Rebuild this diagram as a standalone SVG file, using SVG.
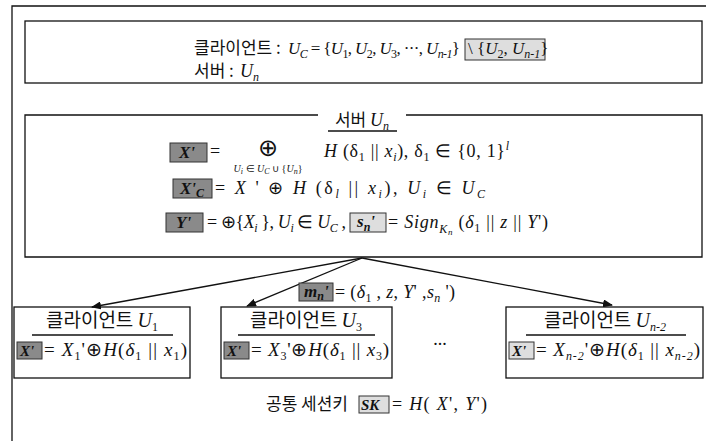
<svg xmlns="http://www.w3.org/2000/svg" width="706" height="441" viewBox="0 0 706 441">
<style>
.ln{fill:none;stroke:#111;stroke-width:1.3}
.k{font-family:"Noto Sans CJK KR","Noto Sans",sans-serif;font-size:17px;font-style:normal;fill:#111}
.m{font-family:"Liberation Serif",serif;font-style:italic;font-size:18px;fill:#111}
.u{font-style:normal}
.s{font-size:12px}
.dk{fill:#8a8a8a;stroke:#333;stroke-width:1}
.lt{fill:#dedede;stroke:#333;stroke-width:1}
.bx{font-family:"Liberation Serif",serif;font-style:italic;font-weight:bold;font-size:17px;fill:#111}
.sm{font-size:15px}
.cf{font-size:19px}
.op{font-family:"DejaVu Sans",sans-serif;font-style:normal;fill:#111}
</style>
<defs>
<marker id="ah" markerWidth="10" markerHeight="8" refX="9" refY="4" orient="auto" markerUnits="userSpaceOnUse">
<path d="M0,0 L10,4 L0,8 Z" fill="#111"/>
</marker>
</defs>
<rect width="706" height="441" fill="#fff"/>
<path class="ln" d="M12,441 V6 H706"/>

<g id="participants">
<rect class="ln" x="25" y="21" width="677" height="62"/>
<text class="k" x="194" y="54">클라이언트 :</text>
<text class="m" x="288" y="54" style="font-size:17px" textLength="172" lengthAdjust="spacing">U<tspan class="s" dy="4">C</tspan><tspan class="u" dy="-4"> = {</tspan>U<tspan class="s u" dy="4">1</tspan><tspan class="u" dy="-4">, </tspan>U<tspan class="s u" dy="4">2</tspan><tspan class="u" dy="-4">, </tspan>U<tspan class="s u" dy="4">3</tspan><tspan class="u" dy="-4">, ···, </tspan>U<tspan class="s" dy="4">n-1</tspan><tspan class="u" dy="-4">}</tspan></text>
<rect class="lt" x="465" y="39" width="80" height="21"/>
<text class="m" x="468" y="54" style="font-size:17px"><tspan class="u">\ {</tspan>U<tspan class="s u" dy="4">2</tspan><tspan class="u" dy="-4">, </tspan>U<tspan class="s" dy="4">n-1</tspan><tspan class="u" dy="-4">}</tspan></text>
<text class="k" x="194" y="77">서버 :</text>
<text class="m" x="240" y="77">U<tspan class="s" dy="4">n</tspan></text>
</g>

<g id="server">
<path class="ln" d="M318,115 H25 V257 H702 V115 H406"/>
<text class="m" x="362" y="126" text-anchor="middle"><tspan class="k">서버 </tspan>U<tspan class="s" dy="4">n</tspan></text>
<line class="ln" x1="328" y1="131" x2="397" y2="131"/>

<rect class="dk" x="170" y="143" width="37" height="19"/>
<text class="bx" x="179" y="158">X'</text>
<text class="m u" x="210" y="157">=</text>
<text class="op" x="268" y="156" text-anchor="middle" style="font-size:24px">⊕</text>
<text class="m" x="268" y="172" text-anchor="middle" style="font-size:10px">U<tspan dy="2" style="font-size:8px">i</tspan><tspan class="u" dy="-2"> ∈ </tspan>U<tspan dy="2" style="font-size:8px">C</tspan><tspan class="u" dy="-2"> ∪ {</tspan>U<tspan dy="2" style="font-size:8px">n</tspan><tspan class="u" dy="-2">}</tspan></text>
<text class="m" x="324" y="157" textLength="185" lengthAdjust="spacing">H <tspan class="u">(δ</tspan><tspan class="s u" dy="4">1</tspan><tspan class="u" dy="-4"> || </tspan>x<tspan class="s" dy="4">i</tspan><tspan class="u" dy="-4">), δ</tspan><tspan class="s u" dy="4">1</tspan><tspan class="u" dy="-4"> ∈ {0, 1}</tspan><tspan class="s" dy="-7">l</tspan></text>

<rect class="dk" x="173" y="179" width="39" height="19"/>
<text class="bx" x="180" y="194">X'<tspan class="s" dy="3">C</tspan></text>
<text class="m" x="215" y="194" textLength="270" lengthAdjust="spacing"><tspan class="u">= </tspan>X<tspan class="u"> ' ⊕ </tspan>H <tspan class="u">(δ</tspan><tspan class="s" dy="4">l</tspan><tspan class="u" dy="-4"> || </tspan>x<tspan class="s" dy="4">i</tspan><tspan class="u" dy="-4">),  </tspan>U<tspan class="s" dy="4">i</tspan><tspan class="u" dy="-4"> ∈ </tspan>U<tspan class="s" dy="4">C</tspan></text>

<rect class="dk" x="166" y="213" width="37" height="19"/>
<text class="bx" x="176" y="228">Y'</text>
<text class="m" x="207" y="228" textLength="139" lengthAdjust="spacing"><tspan class="u">= ⊕{</tspan>X<tspan class="s" dy="4">i</tspan><tspan class="u" dy="-4"> }, </tspan>U<tspan class="s" dy="4">i</tspan><tspan class="u" dy="-4"> ∈ </tspan>U<tspan class="s" dy="4">C</tspan><tspan class="u" dy="-4"> ,</tspan></text>
<rect class="lt" x="350" y="213" width="36" height="19"/>
<text class="bx" x="357" y="227">s<tspan class="s" dy="4">n</tspan><tspan dy="-4">'</tspan></text>
<text class="m" x="388" y="228" textLength="160" lengthAdjust="spacing"><tspan class="u">= </tspan>Sign<tspan class="s" dy="5">K</tspan><tspan style="font-size:9px" dy="2">n</tspan><tspan class="u" dy="-7"> (</tspan>δ<tspan class="s u" dy="4">1</tspan><tspan class="u" dy="-4"> || </tspan>z<tspan class="u"> || </tspan>Y<tspan class="u">')</tspan></text>
</g>

<g id="connectors">
<line class="ln" x1="362" y1="258" x2="92" y2="307" marker-end="url(#ah)"/>
<line class="ln" x1="362" y1="258" x2="247" y2="306" marker-end="url(#ah)"/>
<line class="ln" x1="362" y1="258" x2="612" y2="305" marker-end="url(#ah)"/>
<rect class="dk" x="299" y="283" width="34" height="18"/>
<text class="bx" x="304" y="297">m<tspan class="s" dy="3">n</tspan><tspan dy="-3">'</tspan></text>
<text class="m" x="335" y="298" textLength="120" lengthAdjust="spacing"><tspan class="u">= (</tspan>δ<tspan class="s u" dy="4">1</tspan><tspan class="u" dy="-4"> , </tspan>z<tspan class="u">, </tspan>Y<tspan class="u">' ,</tspan>s<tspan class="s" dy="4">n</tspan><tspan class="u" dy="-4"> ')</tspan></text>
</g>

<g id="client-u1">
<rect class="ln" x="14" y="307" width="176" height="71"/>
<text class="m" x="102" y="327" text-anchor="middle" style="font-size:20px"><tspan class="k" style="font-size:19px">클라이언트 </tspan>U<tspan class="s u" dy="4">1</tspan></text>
<line class="ln" x1="32" y1="335" x2="173" y2="335"/>
<rect class="dk" x="17" y="342" width="25" height="17"/>
<text class="bx sm" x="20" y="356">X'</text>
<text class="m cf" x="44" y="356" textLength="143" lengthAdjust="spacing"><tspan class="u">= </tspan>X<tspan class="s u" dy="4">1</tspan><tspan class="u" dy="-4">'⊕</tspan>H<tspan class="u">(</tspan>δ<tspan class="s u" dy="4">1</tspan><tspan class="u" dy="-4"> || </tspan>x<tspan class="s u" dy="4">1</tspan><tspan class="u" dy="-4">)</tspan></text>
</g>

<g id="client-u3">
<rect class="ln" x="221" y="307" width="171" height="71"/>
<text class="m" x="306" y="327" text-anchor="middle" style="font-size:20px"><tspan class="k" style="font-size:19px">클라이언트 </tspan>U<tspan class="s u" dy="4">3</tspan></text>
<line class="ln" x1="238" y1="335" x2="375" y2="335"/>
<rect class="dk" x="224" y="342" width="25" height="17"/>
<text class="bx sm" x="227" y="356">X'</text>
<text class="m cf" x="251" y="356" textLength="138" lengthAdjust="spacing"><tspan class="u">= </tspan>X<tspan class="s u" dy="4">3</tspan><tspan class="u" dy="-4">'⊕</tspan>H<tspan class="u">(</tspan>δ<tspan class="s u" dy="4">1</tspan><tspan class="u" dy="-4"> || </tspan>x<tspan class="s u" dy="4">3</tspan><tspan class="u" dy="-4">)</tspan></text>
</g>

<text class="m u" x="440" y="345" text-anchor="middle">...</text>

<g id="client-un2">
<rect class="ln" x="506" y="307" width="197" height="71"/>
<text class="m" x="605" y="327" text-anchor="middle" style="font-size:20px"><tspan class="k" style="font-size:19px">클라이언트 </tspan>U<tspan class="s" dy="4">n-2</tspan></text>
<line class="ln" x1="526" y1="335" x2="686" y2="335"/>
<rect class="lt" x="509" y="342" width="25" height="17"/>
<text class="bx sm" x="512" y="356">X'</text>
<text class="m cf" x="536" y="356" textLength="164" lengthAdjust="spacing"><tspan class="u">= </tspan>X<tspan class="s" dy="4">n-2</tspan><tspan class="u" dy="-4">'⊕</tspan>H<tspan class="u">(</tspan>δ<tspan class="s u" dy="4">1</tspan><tspan class="u" dy="-4"> || </tspan>x<tspan class="s" dy="4">n-2</tspan><tspan class="u" dy="-4">)</tspan></text>
</g>

<g id="session-key">
<text class="k" x="266" y="410">공통 세션키</text>
<rect class="lt" x="359" y="396" width="30" height="17"/>
<text class="bx sm" x="361" y="410">SK</text>
<text class="m" x="392" y="410" textLength="95" lengthAdjust="spacing"><tspan class="u">= </tspan>H<tspan class="u">( </tspan>X<tspan class="u">', </tspan>Y<tspan class="u">')</tspan></text>
</g>
</svg>
